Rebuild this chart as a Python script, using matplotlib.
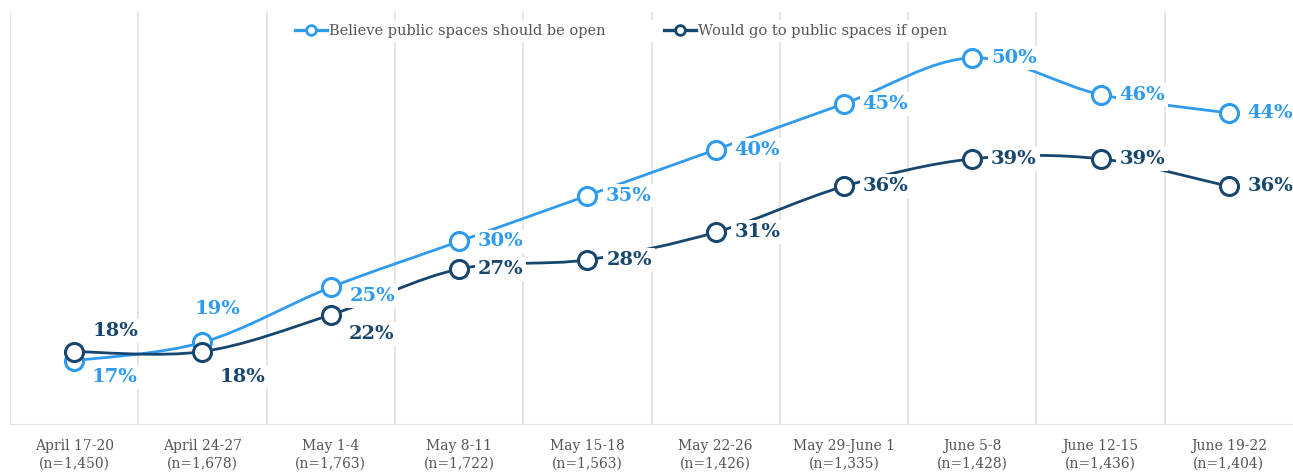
import numpy as np
import matplotlib.pyplot as plt
from matplotlib.path import Path
from matplotlib.patches import PathPatch
from matplotlib.lines import Line2D

dates = ["April 17-20", "April 24-27", "May 1-4", "May 8-11", "May 15-18",
         "May 22-26", "May 29-June 1", "June 5-8", "June 12-15", "June 19-22"]
sizes = ["1,450", "1,678", "1,763", "1,722", "1,563",
         "1,426", "1,335", "1,428", "1,436", "1,404"]
believe_open = [17, 19, 25, 30, 35, 40, 45, 50, 46, 44]
would_go = [18, 18, 22, 27, 28, 31, 36, 39, 39, 36]

LIGHT = "#2F9BEF"
DARK = "#17466E"
GRID = "#E3E3E3"
TEXT = "#555555"
SERIF = ["DejaVu Serif"]

# label offsets in points (dx, dy) per point
light_off = [(29, -12), (11, 24), (30, -6), (30, 0), (30, 0),
             (30, 0), (30, 0), (30, 0), (30, 0), (30, 0)]
dark_off = [(30, 15), (29, -18), (29, -14), (30, 0), (30, 0),
            (30, 0), (30, 0), (30, 0), (30, 0), (30, 0)]


def smooth_path(xs, ys):
    # Catmull-Rom style bezier through the data points
    pts = np.column_stack([xs, ys]).astype(float)
    n = len(pts)
    verts = [pts[0]]
    codes = [Path.MOVETO]
    for i in range(n - 1):
        p0 = pts[max(i - 1, 0)]
        p1 = pts[i]
        p2 = pts[i + 1]
        p3 = pts[min(i + 2, n - 1)]
        c1 = p1 + (p2 - p0) / 6.0
        c2 = p2 - (p3 - p1) / 6.0
        verts += [c1, c2, p2]
        codes += [Path.CURVE4] * 3
    return Path(verts, codes)


fig = plt.figure(figsize=(12.93, 4.74), dpi=100)
ax = fig.add_axes([10 / 1293, 49 / 474, 1283 / 1293, 413 / 474])
x = np.arange(len(dates))
ax.set_xlim(-0.5, len(dates) - 0.5)
ax.set_ylim(10, 55)

for b in np.arange(-0.5, len(dates) - 0.5, 1.0):
    ax.axvline(b, color=GRID, lw=1.3, zorder=0)
ax.axhline(10, color=GRID, lw=1.5, zorder=0)

for vals, col, offs in [(believe_open, LIGHT, light_off), (would_go, DARK, dark_off)]:
    ax.add_patch(PathPatch(smooth_path(x, vals), facecolor="none",
                           edgecolor=col, lw=2.0, zorder=2, capstyle="round"))
    ax.plot(x, vals, "o", ms=13, mfc="white", mec=col, mew=2.2, zorder=4)
    for xi, v, (dx, dy) in zip(x, vals, offs):
        ax.annotate(f"{v}%", (xi, v), xytext=(dx, dy), textcoords="offset points",
                    ha="center", va="center", color=col, fontsize=14,
                    fontweight="bold", family=SERIF, zorder=3,
                    bbox=dict(boxstyle="square,pad=0.15", fc="white", ec="none"))

ax.set_xticks(x)
ax.set_xticklabels([f"{d}\n(n={s})" for d, s in zip(dates, sizes)],
                   family=SERIF, fontsize=10, color=TEXT, linespacing=1.3)
ax.tick_params(axis="x", length=0, pad=10)
ax.set_yticks([])
for sp in ax.spines.values():
    sp.set_visible(False)

handles = [Line2D([], [], color=LIGHT, lw=2.4, marker="o", ms=7, mfc="white",
                  mec=LIGHT, mew=2),
           Line2D([], [], color=DARK, lw=2.4, marker="o", ms=7, mfc="white",
                  mec=DARK, mew=2)]
leg = fig.legend(handles, ["Believe public spaces should be open",
                           "Would go to public spaces if open"],
                 loc="center", bbox_to_anchor=(621 / 1293, 1 - 31 / 474), ncol=2,
                 frameon=True, fancybox=False, edgecolor="none", facecolor="white",
                 framealpha=1, handlelength=2.2, handletextpad=0.15,
                 columnspacing=4.0, borderpad=0.3,
                 prop={"family": SERIF, "size": 10.5})
for t in leg.get_texts():
    t.set_color(TEXT)

fig.savefig("out.png", dpi=100)
